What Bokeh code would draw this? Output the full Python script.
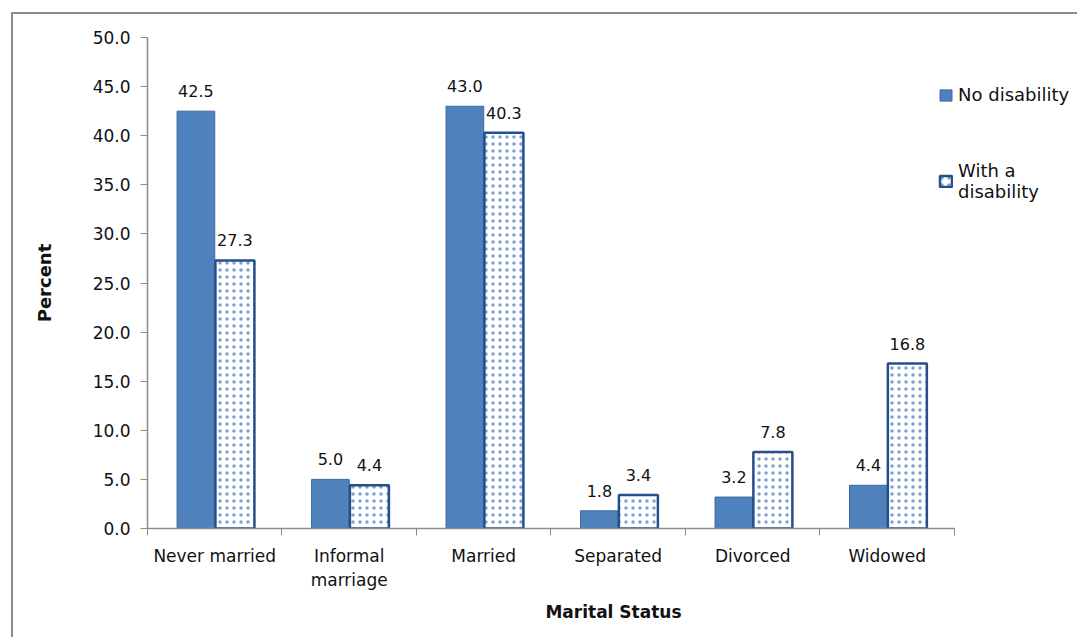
from bokeh.plotting import figure
from bokeh.models import (ColumnDataSource, FixedTicker, Range1d, Legend, LegendItem,
                          LabelSet, CustomJSTickFormatter)
from bokeh.core.properties import value
from bokeh.embed import file_html
from bokeh.resources import INLINE

categories = ["Never married", "Informal\nmarriage", "Married", "Separated", "Divorced", "Widowed"]
no_disability = [42.5, 5.0, 43.0, 1.8, 3.2, 4.4]
with_disability = [27.3, 4.4, 40.3, 3.4, 7.8, 16.8]
y_ticks = [0, 5, 10, 15, 20, 25, 30, 35, 40, 45, 50]

FONT = "DejaVu Sans"
centers = [i + 0.5 for i in range(len(categories))]

src1 = ColumnDataSource(dict(x=[c - 0.14 for c in centers], top=no_disability,
                             lab=[f"{v:.1f}" for v in no_disability]))
src2 = ColumnDataSource(dict(x=[c + 0.15 for c in centers], top=with_disability,
                             lab=[f"{v:.1f}" for v in with_disability]))

p = figure(width=1066, height=625, output_backend="svg", toolbar_location=None,
           x_range=Range1d(0, 6.93), y_range=Range1d(0, 50),
           min_border_left=134, min_border_right=0, min_border_top=23, min_border_bottom=111)
p.styles = {"border-top": "2px solid #8c8c8c", "border-left": "2px solid #8c8c8c",
            "margin-left": "11px", "margin-top": "12px"}
p.outline_line_color = None
p.grid.visible = False

r1 = p.vbar(x="x", top="top", width=0.28, source=src1, fill_color="#4f81bd",
            line_color="#3b6aa0", line_width=1)
r2 = p.vbar(x="x", top="top", width=0.29, source=src2, fill_color="white",
            line_color="#244f8a", line_width=2.5, hatch_pattern="dot",
            hatch_color="#7c9fd6", hatch_scale=7, hatch_weight=0.45)

for src in (src1, src2):
    p.add_layout(LabelSet(x="x", y="top", text="lab", source=src, y_offset=14,
                          text_align="center", text_baseline="bottom",
                          text_font=value(FONT), text_font_size="16px", text_color="#111111"))

# x axis
p.xaxis.bounds = (0, 6)
p.xaxis.ticker = FixedTicker(ticks=centers, minor_ticks=list(range(7)))
p.xaxis.major_label_overrides = {c: lab for c, lab in zip(centers, categories)}
p.xaxis.major_tick_line_color = None
p.xaxis.minor_tick_line_color = "#8c8c8c"
p.xaxis.minor_tick_in = 0
p.xaxis.minor_tick_out = 7
p.xaxis.axis_line_color = "#8c8c8c"
p.xaxis.axis_line_width = 1.5
p.xaxis.major_label_text_font = FONT
p.xaxis.major_label_text_font_size = "17px"
p.xaxis.major_label_text_color = "#111111"
p.xaxis.major_label_standoff = 10
p.xaxis.axis_label = "Marital Status"
p.xaxis.axis_label_text_font = FONT
p.xaxis.axis_label_text_font_style = "bold"
p.xaxis.axis_label_text_font_size = "17px"
p.xaxis.axis_label_text_color = "#111111"
p.xaxis.axis_label_standoff = 9

# y axis
p.yaxis.ticker = FixedTicker(ticks=y_ticks, minor_ticks=[])
p.yaxis.formatter = CustomJSTickFormatter(code="return tick.toFixed(1);")
p.yaxis.major_tick_in = 0
p.yaxis.major_tick_out = 7
p.yaxis.major_tick_line_color = "#8c8c8c"
p.yaxis.minor_tick_line_color = None
p.yaxis.axis_line_color = "#8c8c8c"
p.yaxis.axis_line_width = 1.5
p.yaxis.major_label_text_font = FONT
p.yaxis.major_label_text_font_size = "17px"
p.yaxis.major_label_text_color = "#111111"
p.yaxis.major_label_standoff = 10
p.yaxis.axis_label = "Percent"
p.yaxis.axis_label_text_font = FONT
p.yaxis.axis_label_text_font_style = "bold"
p.yaxis.axis_label_text_font_size = "18px"
p.yaxis.axis_label_text_color = "#111111"
p.yaxis.axis_label_standoff = 35

legend = Legend(items=[LegendItem(label="No disability", renderers=[r1]),
                       LegendItem(label="With a\ndisability", renderers=[r2])],
                location=(791, 326), orientation="vertical",
                label_text_font=FONT, label_text_font_size="18px", label_text_color="#111111",
                glyph_width=15, glyph_height=14, spacing=55, padding=2, margin=0,
                label_standoff=5, border_line_color=None, background_fill_alpha=0)
p.add_layout(legend, "center")

open("out.html", "w").write(file_html(p, INLINE))
